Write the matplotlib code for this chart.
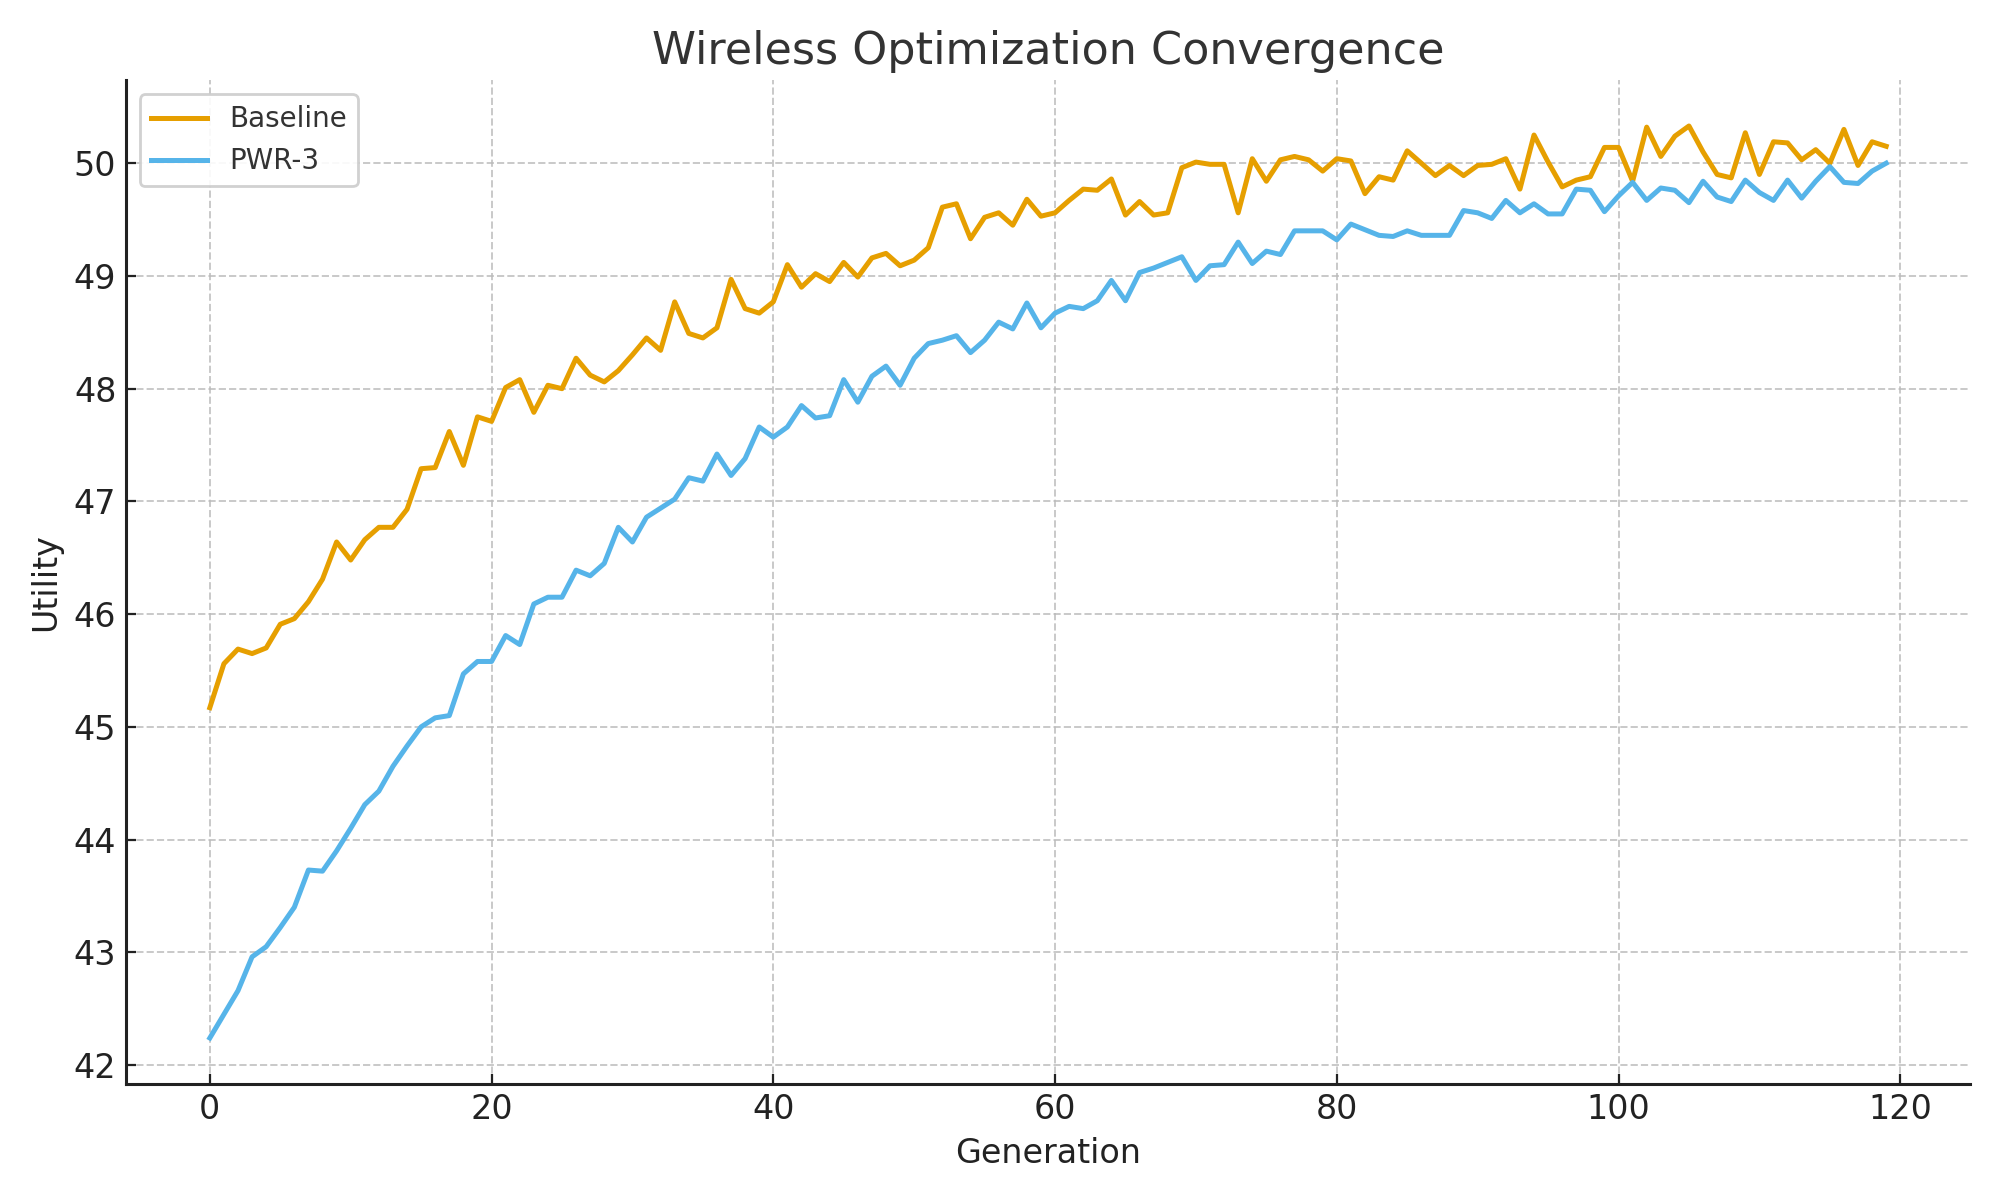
import numpy as np
import matplotlib
matplotlib.use("Agg")
import matplotlib.pyplot as plt

generation = list(range(120))

baseline = [
    45.17, 45.56, 45.69, 45.65, 45.70, 45.91, 45.96, 46.11, 46.31, 46.64,
    46.48, 46.66, 46.77, 46.77, 46.93, 47.29, 47.30, 47.62, 47.32, 47.75,
    47.71, 48.01, 48.08, 47.79, 48.03, 48.00, 48.27, 48.12, 48.06, 48.16,
    48.30, 48.45, 48.34, 48.77, 48.49, 48.45, 48.54, 48.97, 48.71, 48.67,
    48.77, 49.10, 48.90, 49.02, 48.95, 49.12, 48.99, 49.16, 49.20, 49.09,
    49.14, 49.25, 49.61, 49.64, 49.33, 49.52, 49.56, 49.45, 49.68, 49.53,
    49.56, 49.67, 49.77, 49.76, 49.86, 49.54, 49.66, 49.54, 49.56, 49.96,
    50.01, 49.99, 49.99, 49.56, 50.04, 49.84, 50.03, 50.06, 50.03, 49.93,
    50.04, 50.02, 49.73, 49.88, 49.85, 50.11, 50.00, 49.89, 49.98, 49.89,
    49.98, 49.99, 50.04, 49.77, 50.25, 50.01, 49.79, 49.85, 49.88, 50.14,
    50.14, 49.84, 50.32, 50.06, 50.24, 50.33, 50.10, 49.90, 49.87, 50.27,
    49.90, 50.19, 50.18, 50.03, 50.12, 50.00, 50.30, 49.98, 50.19, 50.15,
]

pwr3 = [
    42.24, 42.45, 42.66, 42.96, 43.05, 43.22, 43.40, 43.73, 43.72, 43.90,
    44.10, 44.31, 44.43, 44.65, 44.83, 45.00, 45.08, 45.10, 45.47, 45.58,
    45.58, 45.81, 45.73, 46.09, 46.15, 46.15, 46.39, 46.34, 46.45, 46.77,
    46.64, 46.86, 46.94, 47.02, 47.21, 47.18, 47.42, 47.23, 47.38, 47.66,
    47.57, 47.66, 47.85, 47.74, 47.76, 48.08, 47.88, 48.11, 48.20, 48.03,
    48.27, 48.40, 48.43, 48.47, 48.32, 48.43, 48.59, 48.53, 48.76, 48.54,
    48.67, 48.73, 48.71, 48.78, 48.96, 48.78, 49.03, 49.07, 49.12, 49.17,
    48.96, 49.09, 49.10, 49.30, 49.11, 49.22, 49.19, 49.40, 49.40, 49.40,
    49.32, 49.46, 49.41, 49.36, 49.35, 49.40, 49.36, 49.36, 49.36, 49.58,
    49.56, 49.51, 49.67, 49.56, 49.64, 49.55, 49.55, 49.77, 49.76, 49.57,
    49.71, 49.83, 49.67, 49.78, 49.76, 49.65, 49.84, 49.70, 49.66, 49.85,
    49.74, 49.67, 49.85, 49.69, 49.84, 49.97, 49.83, 49.82, 49.93, 50.00,
]

fig, ax = plt.subplots(figsize=(10, 6), dpi=200)
ax.plot(generation, baseline, color="#E69F00", lw=1.8, label="Baseline")
ax.plot(generation, pwr3, color="#56B4E9", lw=1.8, label="PWR-3")

ax.set_title("Wireless Optimization Convergence", fontsize=16, color="#333333")
ax.set_xlabel("Generation", fontsize=12, color="#222222")
ax.set_ylabel("Utility", fontsize=12, color="#222222")
ax.tick_params(labelsize=12, direction="in", color="#222222", labelcolor="#222222")
ax.grid(True, linestyle="--", color="#bbbbbb", alpha=0.8, lw=0.7)
ax.spines["top"].set_visible(False)
ax.spines["right"].set_visible(False)
for s in ("left", "bottom"):
    ax.spines[s].set_color("#222222")
    ax.spines[s].set_linewidth(1.1)
leg = ax.legend(loc="upper left", fontsize=10, framealpha=0.9)
for t in leg.get_texts():
    t.set_color("#333333")

fig.subplots_adjust(left=0.063, right=0.985, top=0.933, bottom=0.097)
fig.savefig("out.png")
